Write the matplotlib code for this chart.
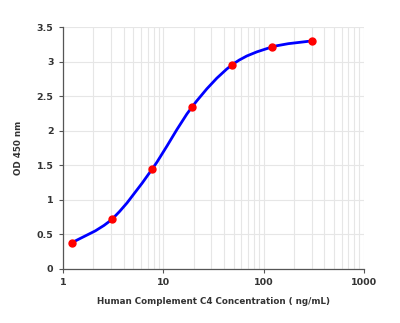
import numpy as np
import matplotlib
matplotlib.use("Agg")
import matplotlib.pyplot as plt
from matplotlib.path import Path
from matplotlib.patches import PathPatch

# standard curve values
conc = [1.23, 3.07, 7.68, 19.2, 48.0, 120.0, 300.0]
od = [0.38, 0.72, 1.44, 2.34, 2.95, 3.21, 3.30]

x_ticks = [1, 10, 100, 1000]
x_tick_labels = ["1", "10", "100", "1000"]
y_ticks = [0, 0.5, 1, 1.5, 2, 2.5, 3, 3.5]
y_tick_labels = ["0", "0.5", "1", "1.5", "2", "2.5", "3", "3.5"]


def smooth_path(xs, ys):
    # Catmull-Rom style bezier through the points, built in log10(x) space
    u = np.log10(xs)
    v = np.asarray(ys, dtype=float)
    n = len(u)
    verts = [(xs[0], v[0])]
    codes = [Path.MOVETO]
    for i in range(n - 1):
        i0 = max(i - 1, 0)
        i3 = min(i + 2, n - 1)
        c1u = u[i] + (u[i + 1] - u[i0]) / 6
        c1v = v[i] + (v[i + 1] - v[i0]) / 6
        c2u = u[i + 1] - (u[i3] - u[i]) / 6
        c2v = v[i + 1] - (v[i3] - v[i]) / 6
        verts += [(10 ** c1u, c1v), (10 ** c2u, c2v), (xs[i + 1], v[i + 1])]
        codes += [Path.CURVE4] * 3
    return Path(verts, codes)


def main():
    fig = plt.figure(figsize=(4.0, 3.23), dpi=100)
    ax = fig.add_axes([0.158, 0.168, 0.752, 0.748])

    ax.set_xscale("log")
    ax.set_xlim(1, 1000)
    ax.set_ylim(0, 3.5)

    ax.grid(True, which="both", axis="x", color="#e6e6e6", linewidth=0.8)
    ax.grid(True, which="major", axis="y", color="#e6e6e6", linewidth=0.8)
    ax.set_axisbelow(True)

    patch = PathPatch(smooth_path(conc, od), facecolor="none",
                      edgecolor="#0000ff", linewidth=2.0, zorder=3)
    ax.add_patch(patch)
    ax.plot(conc, od, linestyle="none", marker="o", markersize=5,
            color="#ff0000", zorder=4)

    ax.set_xticks(x_ticks)
    ax.set_xticklabels(x_tick_labels)
    ax.set_yticks(y_ticks)
    ax.set_yticklabels(y_tick_labels)
    ax.tick_params(axis="x", which="minor", length=0)
    ax.tick_params(axis="both", which="major", length=3, width=0.8,
                   color="#555555", labelsize=6.8, labelcolor="#333333", pad=4)
    for lab in ax.get_xticklabels() + ax.get_yticklabels():
        lab.set_fontweight("bold")

    for side in ["top", "right"]:
        ax.spines[side].set_visible(False)
    for side in ["left", "bottom"]:
        ax.spines[side].set_color("#555555")
        ax.spines[side].set_linewidth(0.9)

    ax.set_xlabel("Human Complement C4 Concentration ( ng/mL)", fontsize=6.3,
                  fontweight="bold", color="#333333", labelpad=7)
    ax.set_ylabel("OD 450 nm", fontsize=6.3, fontweight="bold",
                  color="#333333", labelpad=10)

    fig.savefig("out.png", dpi=100)


if __name__ == "__main__":
    main()
